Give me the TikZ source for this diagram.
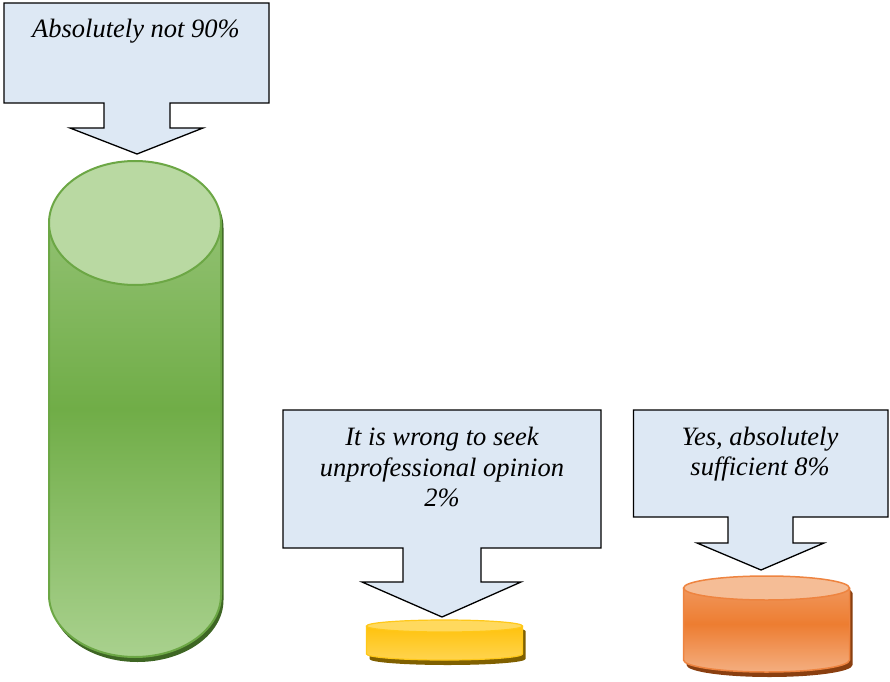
\documentclass[tikz,border=0pt]{standalone}
\usepackage{fontspec}
\setmainfont{Liberation Serif}
\definecolor{calloutfill}{HTML}{DDE8F4}
\definecolor{grnedge}{HTML}{6CA745}
\definecolor{grntop}{HTML}{B9D9A2}
\definecolor{grnhi}{HTML}{9CC77F}
\definecolor{grnmid}{HTML}{70AD47}
\definecolor{grnlow}{HTML}{A9D18E}
\definecolor{grnshadow}{HTML}{3E6624}
\definecolor{yeledge}{HTML}{FFC819}
\definecolor{yeltop}{HTML}{FFD95E}
\definecolor{yelhi}{HTML}{FFBF00}
\definecolor{yellow2}{HTML}{FFD44F}
\definecolor{yelshadow}{HTML}{806000}
\definecolor{orgedge}{HTML}{EE8440}
\definecolor{orgtop}{HTML}{F5BD96}
\definecolor{orghi}{HTML}{F29E68}
\definecolor{orgmid}{HTML}{ED7D31}
\definecolor{orglow}{HTML}{F4AE80}
\definecolor{orgshadow}{HTML}{8A3F10}
\begin{document}
\begin{tikzpicture}[x=1pt,y=1pt,
  callout/.style={fill=calloutfill,draw=black,line width=1.3pt,line join=miter},
  lbl/.style={font=\itshape\fontsize{26.5}{30.5}\selectfont,anchor=base,inner sep=0pt},
]
\useasboundingbox (0,0) rectangle (890,681);

% ---- green cylinder (90%) ----
\fill[grnshadow,shift={(2.5,-5)}] (49,458) -- (49,86) arc[start angle=180,end angle=360,x radius=86,y radius=62] -- (221,458) arc[start angle=0,end angle=180,x radius=86,y radius=62] -- cycle;
\shade[top color=grnhi,bottom color=grnlow,middle color=grnmid] (49,458) -- (49,86) arc[start angle=180,end angle=360,x radius=86,y radius=62] -- (221,458) arc[start angle=0,end angle=180,x radius=86,y radius=62] -- cycle;
\draw[grnedge,line width=2pt] (49,458) -- (49,86) arc[start angle=180,end angle=360,x radius=86,y radius=62] -- (221,458);
\draw[grnedge,line width=2pt,fill=grntop] (135,458) ellipse[x radius=86,y radius=62];

% ---- yellow cylinder (2%) ----
\fill[yelshadow,shift={(3,-5)}] (366.5,55) -- (366.5,27) arc[start angle=180,end angle=360,x radius=78,y radius=6] -- (522.5,55) arc[start angle=0,end angle=180,x radius=78,y radius=6] -- cycle;
\shade[top color=yelhi,bottom color=yellow2] (366.5,55) -- (366.5,27) arc[start angle=180,end angle=360,x radius=78,y radius=6] -- (522.5,55) arc[start angle=0,end angle=180,x radius=78,y radius=6] -- cycle;
\draw[yeledge,line width=1.2pt] (366.5,55) -- (366.5,27) arc[start angle=180,end angle=360,x radius=78,y radius=6] -- (522.5,55);
\draw[yeledge,line width=1.2pt,fill=yeltop] (444.5,55) ellipse[x radius=78,y radius=6];

% ---- orange cylinder (8%) ----
\fill[orgshadow,shift={(3,-5)}] (683.5,93) -- (683.5,21) arc[start angle=180,end angle=360,x radius=83,y radius=12] -- (849.5,93) arc[start angle=0,end angle=180,x radius=83,y radius=12] -- cycle;
\shade[top color=orghi,bottom color=orglow,middle color=orgmid] (683.5,93) -- (683.5,21) arc[start angle=180,end angle=360,x radius=83,y radius=12] -- (849.5,93) arc[start angle=0,end angle=180,x radius=83,y radius=12] -- cycle;
\draw[orgedge,line width=1.5pt] (683.5,93) -- (683.5,21) arc[start angle=180,end angle=360,x radius=83,y radius=12] -- (849.5,93);
\draw[orgedge,line width=1.5pt,fill=orgtop] (766.5,93) ellipse[x radius=83,y radius=12];

% ---- callouts ----
\draw[callout] (4,678) -- (269,678) -- (269,578) -- (170,578) -- (170,553) -- (203,553) -- (137,527) -- (70,553) -- (104,553) -- (104,578) -- (4,578) -- cycle;
\node[lbl] (c1a) at (136,643) {Absolutely not 90\%};

\draw[callout] (283,271) -- (601,271) -- (601,133) -- (481,133) -- (481,99) -- (521,99) -- (442,64) -- (362,99) -- (403,99) -- (403,133) -- (283,133) -- cycle;
\node[lbl] (c2a) at (442,236) {It is wrong to seek};
\node[lbl] (c2b) at (442,205) {unprofessional opinion};
\node[lbl] (c2c) at (442,175) {2\%};

\draw[callout] (633.5,271) -- (888,271) -- (888,164) -- (793,164) -- (793,138) -- (824,138) -- (761,111) -- (697,138) -- (728,138) -- (728,164) -- (633.5,164) -- cycle;
\node[lbl] (c3a) at (760,236) {Yes, absolutely};
\node[lbl] (c3b) at (760,206) {sufficient 8\%};
\end{tikzpicture}
\end{document}
